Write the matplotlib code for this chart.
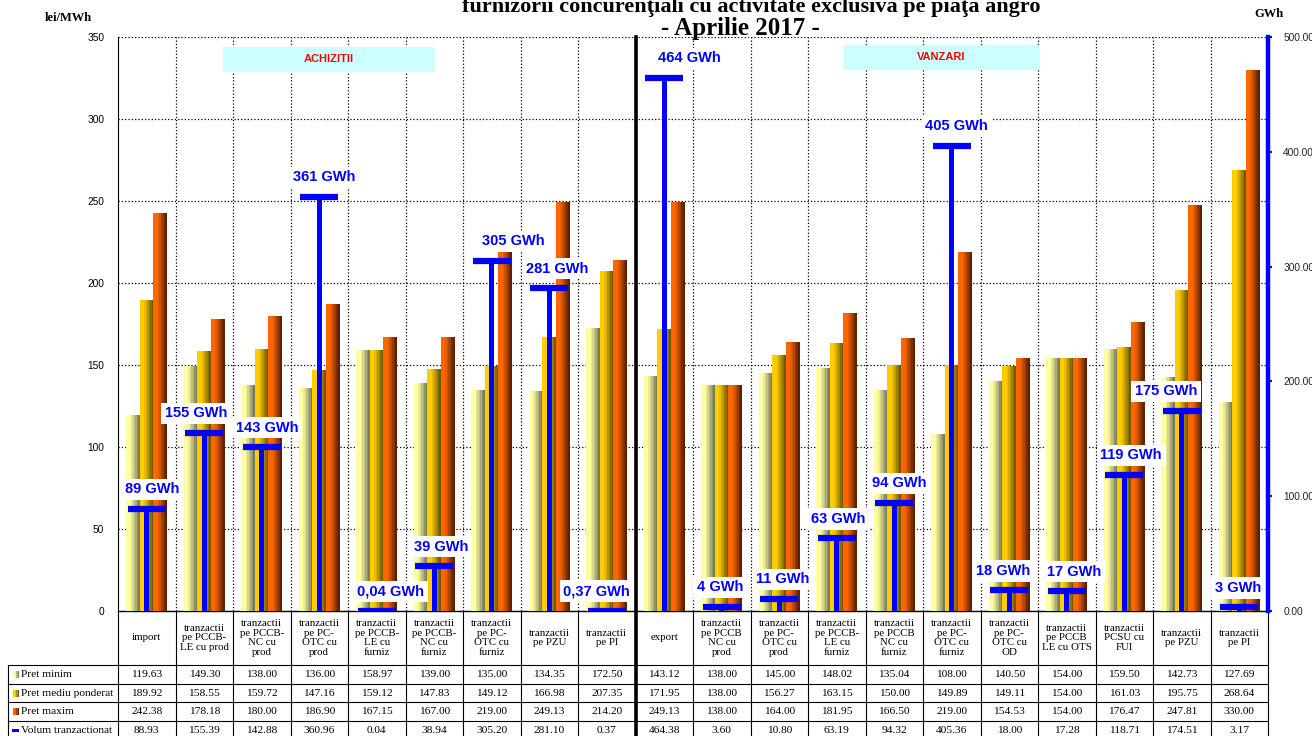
import matplotlib
matplotlib.use("Agg")
import matplotlib.pyplot as plt
import numpy as np
from matplotlib.colors import to_rgb
from matplotlib.patches import Rectangle
from matplotlib.transforms import blended_transform_factory

# categorii (achizitii + vanzari)
categories = [
    "import",
    "tranzactii\npe PCCB-\nLE cu prod",
    "tranzactii\npe PCCB-\nNC cu\nprod",
    "tranzactii\npe PC-\nOTC cu\nprod",
    "tranzactii\npe PCCB-\nLE cu\nfurniz",
    "tranzactii\npe PCCB-\nNC cu\nfurniz",
    "tranzactii\npe PC-\nOTC cu\nfurniz",
    "tranzactii\npe PZU",
    "tranzactii\npe PI",
    "export",
    "tranzactii\npe PCCB\nNC cu\nprod",
    "tranzactii\npe PC-\nOTC cu\nprod",
    "tranzactii\npe PCCB-\nLE cu\nfurniz",
    "tranzactii\npe PCCB\nNC cu\nfurniz",
    "tranzactii\npe PC-\nOTC cu\nfurniz",
    "tranzactii\npe PC-\nOTC cu\nOD",
    "tranzactii\npe PCCB\nLE cu OTS",
    "tranzactii\nPCSU cu\nFUI",
    "tranzactii\npe PZU",
    "tranzactii\npe PI",
]

pret_minim = [119.63, 149.30, 138.00, 136.00, 158.97, 139.00, 135.00, 134.35, 172.50,
              143.12, 138.00, 145.00, 148.02, 135.04, 108.00, 140.50, 154.00, 159.50, 142.73, 127.69]
pret_mediu = [189.92, 158.55, 159.72, 147.16, 159.12, 147.83, 149.12, 166.98, 207.35,
              171.95, 138.00, 156.27, 163.15, 150.00, 149.89, 149.11, 154.00, 161.03, 195.75, 268.64]
pret_maxim = [242.38, 178.18, 180.00, 186.90, 167.15, 167.00, 219.00, 249.13, 214.20,
              249.13, 138.00, 164.00, 181.95, 166.50, 219.00, 154.53, 154.00, 176.47, 247.81, 330.00]
volum = [88.93, 155.39, 142.88, 360.96, 0.04, 38.94, 305.20, 281.10, 0.37,
         464.38, 3.60, 10.80, 63.19, 94.32, 405.36, 18.00, 17.28, 118.71, 174.51, 3.17]

row_names = ["Pret minim", "Pret mediu ponderat", "Pret maxim", "Volum tranzactionat"]

# small horizontal nudges of the GWh labels (pixels)
label_dx = [5, -8, 5, 5, 14, 7, 22, 8, -10, 25, -2, 3, 1, 5, 5, -6, 7, 7, -16, -1]

W, H = 1312, 736
SERIF = "Liberation Serif"
SANS = "Liberation Sans"


def fy(py):
    return 1 - py / H


def fx(px):
    return px / W


def shade(light, dark, t):
    f = max(0.0, (t - 0.25) / 0.75) ** 1.1
    l, d = np.array(to_rgb(light)), np.array(to_rgb(dark))
    return tuple(l * (1 - f) + d * f)


def vol_label(v):
    if v < 1:
        return ("%.2f" % v).replace(".", ",") + " GWh"
    return "%d GWh" % int(round(v))


fig = plt.figure(figsize=(W / 100, H / 100), dpi=100)
ax = fig.add_axes([fx(118), fy(611), fx(1150), 574 / H])
ax2 = ax.twinx()

n = len(categories)
x = np.arange(n)
bw = 0.235
strips = 9
series = [(pret_minim, "#FFFFA0", "#7A7A5C", -bw),
          (pret_mediu, "#FFCC00", "#6E5A00", 0.0),
          (pret_maxim, "#FF6600", "#5C2200", bw)]
for vals, light, dark, off in series:
    for k in range(strips):
        t = k / (strips - 1)
        sx = x + off - bw / 2 + (k + 0.5) * bw / strips
        ax.bar(sx, vals, width=bw / strips * 1.15, color=shade(light, dark, t),
               linewidth=0, zorder=3)

ax.set_xlim(-0.5, n - 0.5)
ax.set_ylim(0, 350)
ax.set_yticks(np.arange(0, 351, 50))
ax.set_xticks([])
ax.tick_params(axis="y", labelsize=7.3, length=0, pad=10)
for lab in ax.get_yticklabels():
    lab.set_fontfamily(SANS)
ax.yaxis.grid(True, linestyle=":", color="black", linewidth=0.9, zorder=1)
ax.set_axisbelow(True)
sep = 8.5  # achizitii | vanzari
bounds = [b + 0.5 for b in range(n - 1) if b + 0.5 != sep]
ax.vlines(bounds, 0, 350, colors="black", linestyles=":", linewidth=0.9, zorder=1)
ax.spines["top"].set_visible(False)
ax.spines["right"].set_visible(False)
ax.spines["left"].set_linewidth(0.8)
ax.spines["bottom"].set_linewidth(1.0)

# volume on secondary axis
ax2.set_ylim(0, 500)
ax2.set_yticks(np.arange(0, 501, 100))
ax2.set_yticklabels(["%.2f" % v for v in np.arange(0, 501, 100)], fontsize=7.3, fontfamily=SANS)
ax2.tick_params(axis="y", colors="blue", labelcolor="#222222", length=3, width=1.5, pad=8)
for s in ["top", "left", "bottom"]:
    ax2.spines[s].set_visible(False)
ax2.spines["right"].set_color("blue")
ax2.spines["right"].set_linewidth(3.2)
ax2.bar(x, volum, width=0.085, color="blue", linewidth=0, zorder=5)
ax2.hlines(volum, x - 0.33, x + 0.33, colors="blue", linewidth=4.5, zorder=5)
for i, v in enumerate(volum):
    ax2.annotate(vol_label(v), (x[i], v), xytext=(label_dx[i] * 0.72, 14),
                 textcoords="offset points", ha="center", va="center",
                 fontsize=10.5, fontweight="bold", color="blue", fontfamily=SANS,
                 bbox=dict(boxstyle="square,pad=0.25", fc="white", ec="none"), zorder=6)

# section boxes
for x0, x1, y0, y1, txt in [(223, 435, 47, 72, "ACHIZITII"), (843, 1040, 45, 70, "VANZARI")]:
    fig.patches.append(Rectangle((fx(x0), fy(y1)), fx(x1 - x0), (y1 - y0) / H,
                                 transform=fig.transFigure, fc="#CCFFFF", ec="none", zorder=4))
    fig.text(fx((x0 + x1) / 2), fy((y0 + y1) / 2), txt, ha="center", va="center",
             color="red", fontsize=8, fontweight="bold", fontfamily=SANS, zorder=5)

# separator achizitii / vanzari
bt = blended_transform_factory(ax.transData, fig.transFigure)
ax.plot([sep, sep], [fy(37), fy(736)], transform=bt, color="black",
        linewidth=2.6, clip_on=False, zorder=7)

# titles
fig.text(fx(751), fy(7), "furnizorii concurenţiali cu activitate exclusiva pe piaţa angro",
         ha="center", va="center", fontsize=16, fontweight="bold", fontfamily=SERIF)
fig.text(fx(740), fy(28), "- Aprilie 2017 -", ha="center", va="center",
         fontsize=18, fontweight="bold", fontfamily=SERIF)
fig.text(fx(68), fy(18), "lei/MWh", ha="center", va="center", fontsize=9,
         fontweight="bold", fontfamily=SERIF)
fig.text(fx(1269), fy(14), "GWh", ha="center", va="center", fontsize=9,
         fontweight="bold", fontfamily=SERIF)

# data table
row_tops = [665, 684, 702, 721, 740]
for i, cat in enumerate(categories):
    ax.text(x[i], fy(638), cat, transform=bt, ha="center", va="center", fontsize=7.8,
            fontfamily=SERIF, linespacing=1.12, clip_on=False)
table_rows = [pret_minim, pret_mediu, pret_maxim, volum]
for r, vals in enumerate(table_rows):
    yc = (row_tops[r] + row_tops[r + 1]) / 2
    for i, v in enumerate(vals):
        ax.text(x[i], fy(yc), "%.2f" % v, transform=bt, ha="center", va="center",
                fontsize=8.2, fontfamily=SERIF, clip_on=False)
    fig.text(fx(21), fy(yc), row_names[r], ha="left", va="center", fontsize=8.2,
             fontfamily=SERIF)

for b in [k - 0.5 for k in range(n + 1)]:
    if b == sep:
        continue
    ax.plot([b, b], [fy(611), fy(736)], transform=bt, color="black", linewidth=0.8,
            clip_on=False)
xl = (8 - 118) / 57.5 - 0.5
for yy in row_tops[:4]:
    ax.plot([xl, n - 0.5], [fy(yy), fy(yy)], transform=bt, color="black",
            linewidth=0.8, clip_on=False)
ax.plot([xl, xl], [fy(665), fy(736)], transform=bt, color="black", linewidth=0.8,
        clip_on=False)

# legend keys in the table
keys = [("#FFFFA0", "#7A7A5C"), ("#FFCC00", "#6E5A00"), ("#FF6600", "#5C2200")]
for r, (light, dark) in enumerate(keys):
    yc = (row_tops[r] + row_tops[r + 1]) / 2
    for k in range(4):
        fig.patches.append(Rectangle((fx(13 + k * 1.5), fy(yc + 3.5)), fx(1.6), 7 / H,
                                     transform=fig.transFigure,
                                     fc=shade(light, dark, k / 3), ec="none"))
yc = (row_tops[3] + row_tops[4]) / 2
fig.patches.append(Rectangle((fx(12), fy(yc + 1)), fx(7), 2.5 / H,
                             transform=fig.transFigure, fc="blue", ec="none"))

fig.savefig("out.png", dpi=100)
